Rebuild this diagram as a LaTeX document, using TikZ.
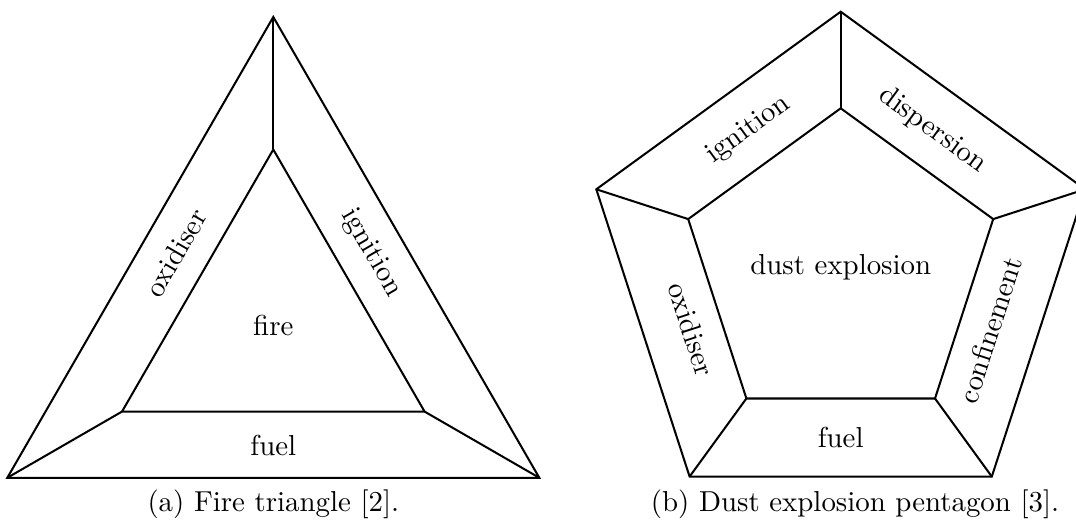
\documentclass[tikz,border=0pt]{standalone}
\begin{document}
\begin{tikzpicture}[x=0.3464pt,y=-0.3464pt,
  edge/.style={line width=0.7pt, line join=miter},
  lbl/.style={inner sep=0pt, font=\fontsize{10}{12}\selectfont},
  captext/.style={inner sep=0pt, font=\fontsize{10}{12}\selectfont}]
\useasboundingbox (0,0) rectangle (1076,521);
\clip (0,0) rectangle (1076,521);
% ---- triangle ----
\coordinate (TOt) at (273.3,17.0);
\coordinate (TOl) at (7.3,477.8);
\coordinate (TOr) at (539.3,477.8);
\coordinate (TIt) at (273.3,149.5);
\coordinate (TIl) at (122.0,411.6);
\coordinate (TIr) at (424.6,411.6);
\draw[edge] (TOt) -- (TOl) -- (TOr) -- cycle;
\draw[edge] (TIt) -- (TIl) -- (TIr) -- cycle;
\draw[edge] (TOt) -- (TIt);
\draw[edge] (TOl) -- (TIl);
\draw[edge] (TOr) -- (TIr);
\node[lbl] (fire) at (273.3,325.5) {fire};
\node[lbl] (tfuel) at (273.3,445.5) {fuel};
\node[lbl, rotate=60] (toxi) at (175.6,253.0) {oxidiser};
\node[lbl, rotate=-60] (tign) at (371.0,253.0) {ignition};
\node[captext] (capa) at (273.3,504) {(a) Fire triangle [2].};
% ---- pentagon ----
\coordinate (POt) at (840.7,11.7);
\coordinate (POl) at (596.3,189.3);
\coordinate (PObl) at (689.6,476.6);
\coordinate (PObr) at (991.8,476.6);
\coordinate (POr) at (1085.1,189.3);
\coordinate (PIt) at (840.7,108.3);
\coordinate (PIl) at (688.2,219.1);
\coordinate (PIbl) at (746.4,398.5);
\coordinate (PIbr) at (935.0,398.5);
\coordinate (PIr) at (993.2,219.1);
\draw[edge] (POt) -- (POl) -- (PObl) -- (PObr) -- (POr) -- cycle;
\draw[edge] (PIt) -- (PIl) -- (PIbl) -- (PIbr) -- (PIr) -- cycle;
\draw[edge] (POt) -- (PIt);
\draw[edge] (POl) -- (PIl);
\draw[edge] (PObl) -- (PIbl);
\draw[edge] (PObr) -- (PIbr);
\draw[edge] (POr) -- (PIr);
\node[lbl] (dust) at (840.7,267.2) {dust explosion};
\node[lbl] (pfuel) at (840.7,437.0) {fuel};
\node[lbl, rotate=-72] (poxi) at (691.5,329.5) {oxidiser};
\node[lbl, rotate=72] (pconf) at (990.0,330.0) {confinement};
\node[lbl, rotate=36] (pign) at (748.5,130.0) {ignition};
\node[lbl, rotate=-36] (pdisp) at (932.5,130.0) {dispersion};
\node[captext] (capb) at (855,504) {(b) Dust explosion pentagon [3].};
\end{tikzpicture}
\end{document}
